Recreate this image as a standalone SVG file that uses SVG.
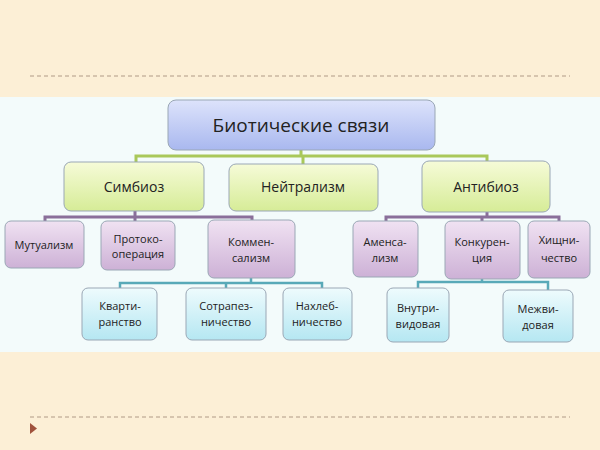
<svg xmlns="http://www.w3.org/2000/svg" width="600" height="450" viewBox="0 0 600 450">
<defs>
<linearGradient id="gb" x1="0" y1="0" x2="0" y2="1"><stop offset="0" stop-color="#dde3fb"/><stop offset="1" stop-color="#a9b8ef"/></linearGradient>
<linearGradient id="gg" x1="0" y1="0" x2="0" y2="1"><stop offset="0" stop-color="#f6fbd8"/><stop offset="1" stop-color="#d6ec97"/></linearGradient>
<linearGradient id="gp" x1="0" y1="0" x2="0" y2="1"><stop offset="0" stop-color="#f0e2f2"/><stop offset="1" stop-color="#cdb1d6"/></linearGradient>
<linearGradient id="gc" x1="0" y1="0" x2="0" y2="1"><stop offset="0" stop-color="#eefbfd"/><stop offset="1" stop-color="#b5e7f2"/></linearGradient>
</defs>
<style>
.b{stroke:#9aa7b5;stroke-width:1;}
text{font-family:"Open Sans","Liberation Sans",Arial,sans-serif;fill:#222;text-anchor:middle;}
.t1{font-size:19px}.t2{font-size:14px}.t3{font-size:11px}
.cg{stroke:#a9c85a;stroke-width:3;fill:none}
.cp{stroke:#8a6f9a;stroke-width:3;fill:none}
.cc{stroke:#58a9b8;stroke-width:2.5;fill:none}
</style>
<rect width="600" height="450" fill="#fcefd6"/>
<rect x="0" y="97" width="600" height="255" fill="#f3fbfb"/>
<line x1="30" y1="76" x2="570" y2="76" stroke="#b09a86" stroke-dasharray="4,3"/>
<line x1="30" y1="417" x2="570" y2="417" stroke="#b09a86" stroke-dasharray="4,3"/>
<polygon points="30,423 37,428.5 30,434" fill="#a0523c"/>
<g id="connectors">
<path class="cg" d="M301 150V156M136 162V156H487V161M303 156V164"/>
<path class="cp" d="M135 211V217M45 221V217H252V220M135 217V221"/>
<path class="cp" d="M487 212V217M386 221V217H559V221M482 217V221"/>
<path class="cc" d="M251 278V283M120 288V283H322V288M226 283V288"/>
<path class="cc" d="M482 279V282M418 288V282H548V290"/>
</g>
<g id="root"><rect class="b" x="168" y="100" width="267" height="50" rx="8" fill="url(#gb)"/><text class="t1" x="301" y="132">Биотические связи</text></g>
<g id="simbioz"><rect class="b" x="64" y="162" width="140" height="49" rx="7" fill="url(#gg)"/><text class="t2" x="134" y="192">Симбиоз</text></g>
<g id="neutral"><rect class="b" x="229" y="164" width="149" height="47" rx="7" fill="url(#gg)"/><text class="t2" x="303" y="192">Нейтрализм</text></g>
<g id="antibioz"><rect class="b" x="422" y="161" width="128" height="51" rx="7" fill="url(#gg)"/><text class="t2" x="486" y="192">Антибиоз</text></g>
<g id="mutual"><rect class="b" x="5" y="221" width="79" height="47" rx="6" fill="url(#gp)"/><text class="t3" x="44" y="249">Мутуализм</text></g>
<g id="proto"><rect class="b" x="101" y="221" width="74" height="49" rx="6" fill="url(#gp)"/><text class="t3" x="138" y="243">Протоко-</text><text class="t3" x="138" y="258">операция</text></g>
<g id="kommen"><rect class="b" x="208" y="220" width="87" height="58" rx="6" fill="url(#gp)"/><text class="t3" x="251" y="246">Коммен-</text><text class="t3" x="251" y="262">сализм</text></g>
<g id="amensa"><rect class="b" x="353" y="221" width="65" height="56" rx="6" fill="url(#gp)"/><text class="t3" x="385" y="246">Аменса-</text><text class="t3" x="385" y="262">лизм</text></g>
<g id="konkur"><rect class="b" x="445" y="221" width="75" height="58" rx="6" fill="url(#gp)"/><text class="t3" x="482" y="246">Конкурен-</text><text class="t3" x="482" y="262">ция</text></g>
<g id="hishch"><rect class="b" x="528" y="221" width="62" height="57" rx="6" fill="url(#gp)"/><text class="t3" x="559" y="244">Хищни-</text><text class="t3" x="559" y="262">чество</text></g>
<g id="kvarti"><rect class="b" x="82" y="288" width="75" height="52" rx="6" fill="url(#gc)"/><text class="t3" x="120" y="310">Кварти-</text><text class="t3" x="120" y="326">ранство</text></g>
<g id="sotrap"><rect class="b" x="186" y="288" width="80" height="52" rx="6" fill="url(#gc)"/><text class="t3" x="226" y="310">Сотрапез-</text><text class="t3" x="226" y="326">ничество</text></g>
<g id="nahleb"><rect class="b" x="283" y="288" width="69" height="52" rx="6" fill="url(#gc)"/><text class="t3" x="317" y="310">Нахлеб-</text><text class="t3" x="317" y="326">ничество</text></g>
<g id="vnutri"><rect class="b" x="387" y="288" width="62" height="54" rx="6" fill="url(#gc)"/><text class="t3" x="418" y="312">Внутри-</text><text class="t3" x="418" y="328">видовая</text></g>
<g id="mezhvi"><rect class="b" x="503" y="290" width="70" height="52" rx="6" fill="url(#gc)"/><text class="t3" x="538" y="313">Межви-</text><text class="t3" x="538" y="329">довая</text></g>
</svg>
